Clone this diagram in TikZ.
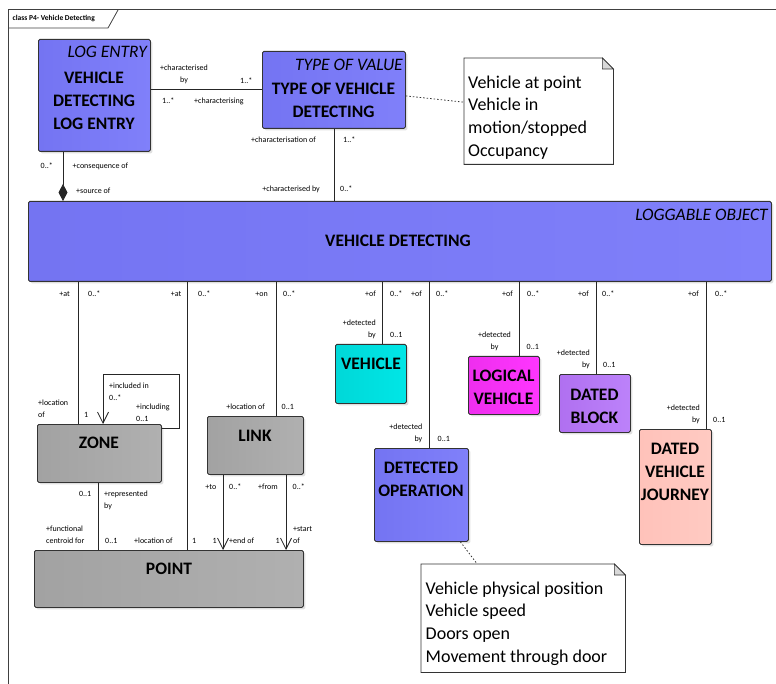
\documentclass[tikz,border=0pt]{standalone}
\usepackage{fontspec}
\setmainfont{Carlito}
\usetikzlibrary{arrows.meta,shadows}
\definecolor{bL}{HTML}{7474F2}
\definecolor{bM}{HTML}{A4A4FF}
\definecolor{bR}{HTML}{8080FA}
\definecolor{gL}{HTML}{A2A2A2}
\definecolor{gM}{HTML}{C6C6C6}
\definecolor{gR}{HTML}{B0B0B0}
\definecolor{cL}{HTML}{00D8D8}
\definecolor{cM}{HTML}{40FFFF}
\definecolor{cR}{HTML}{00E6E6}
\definecolor{mL}{HTML}{EE2EEE}
\definecolor{mM}{HTML}{FF6AFF}
\definecolor{mR}{HTML}{FF36FF}
\definecolor{pL}{HTML}{B070F0}
\definecolor{pM}{HTML}{CFA0FF}
\definecolor{pR}{HTML}{BC82FA}
\definecolor{kL}{HTML}{FFC2BA}
\definecolor{kM}{HTML}{FFE2DC}
\definecolor{kR}{HTML}{FFCAC2}
\definecolor{foldc}{HTML}{D8D8D8}
\tikzset{
  cls/.style={draw=black!80, line width=0.8pt, rounded corners=1.5pt, anchor=north west,
    inner sep=0pt, drop shadow={shadow xshift=2pt, shadow yshift=-2pt, opacity=0.25}},
  blueF/.style={left color=bL, middle color=bM, right color=bR},
  grayF/.style={left color=gL, middle color=gM, right color=gR},
  cyanF/.style={left color=cL, middle color=cM, right color=cR},
  magF/.style={left color=mL, middle color=mM, right color=mR},
  purF/.style={left color=pL, middle color=pM, right color=pR},
  pinkF/.style={left color=kL, middle color=kM, right color=kR},
  ttl/.style={font=\fontsize{17.5}{23}\selectfont\bfseries, align=center, inner sep=0pt},
  stereo/.style={font=\fontsize{17.5}{21}\selectfont\itshape, inner sep=0pt, anchor=east},
  lbl/.style={font=\fontsize{8}{12}\selectfont, inner sep=0pt},
  notetxt/.style={font=\fontsize{18}{22.7}\selectfont, align=left, inner sep=0pt, anchor=west},
  notearea/.style={inner sep=0pt, anchor=north west},
  assoc/.style={draw=black!85, line width=0.8pt},
  openV/.style={-{Straight Barb[length=11pt,width=11pt,line width=0.8pt]}},
  dotl/.style={draw=black!80, line width=0.8pt, dash pattern=on 1.5pt off 2pt},
}
\begin{document}
\begin{tikzpicture}[x=1pt,y=-1pt]
\useasboundingbox (0,0) rectangle (776,684);
% frame
\draw[black!75, line width=1pt] (8,684) -- (8,10) -- (776,10);
\draw[black!75, line width=0.8pt] (8,28) -- (108,28) -- (118,10);
\node[font=\fontsize{7.5}{9}\selectfont\bfseries, inner sep=0pt, anchor=west] (title) at (12.5,19) {class P4- Vehicle Detecting};

% classes
\node[cls, blueF, minimum width=112, minimum height=112] (vdle) at (38,39) {};
\node[stereo] (vdleS) at (147,52) {LOG ENTRY};
\node[ttl] (vdleT) at (94,101) {VEHICLE\\DETECTING\\LOG ENTRY};

\node[cls, blueF, minimum width=143, minimum height=77] (tovd) at (262,51) {};
\node[stereo] (tovdS) at (403,65) {TYPE OF VALUE};
\node[ttl] (tovdT) at (333.5,100.5) {TYPE OF VEHICLE\\DETECTING};

\node[cls, blueF, minimum width=743, minimum height=80] (vd) at (28,201) {};
\node[stereo] (vdS) at (768,215) {LOGGABLE OBJECT};
\node[ttl] (vdT) at (398,241) {VEHICLE DETECTING};

\node[cls, grayF, minimum width=124, minimum height=58] (zone) at (37,424) {};
\node[ttl] (zoneT) at (99,443) {ZONE};

\node[cls, grayF, minimum width=96, minimum height=58] (link) at (207,416) {};
\node[ttl] (linkT) at (255,436) {LINK};

\node[cls, grayF, minimum width=269, minimum height=57] (point) at (34,550) {};
\node[ttl] (pointT) at (169,569) {POINT};

\node[cls, cyanF, minimum width=71, minimum height=59] (veh) at (335,344) {};
\node[ttl] (vehT) at (371,364) {VEHICLE};

\node[cls, magF, minimum width=71, minimum height=58] (lveh) at (468,356) {};
\node[ttl] (lvehT) at (503.5,387) {LOGICAL\\VEHICLE};

\node[cls, purF, minimum width=71, minimum height=58] (dblk) at (559,374) {};
\node[ttl] (dblkT) at (594.5,406) {DATED\\BLOCK};

\node[cls, pinkF, minimum width=72, minimum height=115] (dvj) at (639,429) {};
\node[ttl] (dvjT) at (675,472) {DATED\\VEHICLE\\JOURNEY};

\node[cls, blueF, minimum width=94, minimum height=93] (detop) at (374,448) {};
\node[ttl] (detopT) at (421,479.5) {DETECTED\\OPERATION};

% notes
\node[notearea, minimum width=149, minimum height=106] (note1) at (464,58) {};
\draw[black!80, line width=0.8pt, fill=white] (note1.north west) -- ([xshift=-11pt]note1.north east) -- ([yshift=-11pt]note1.north east) -- (note1.south east) -- (note1.south west) -- cycle;
\draw[black!80, line width=0.6pt, fill=foldc] ([xshift=-11pt]note1.north east) -- ([xshift=-11pt,yshift=-11pt]note1.north east) -- ([yshift=-11pt]note1.north east) -- cycle;
\node[notetxt] (note1T) at (468,117.5) {Vehicle at point\\Vehicle in\\motion/stopped\\Occupancy};

\node[notearea, minimum width=204, minimum height=108] (note2) at (421,564) {};
\draw[black!80, line width=0.8pt, fill=white] (note2.north west) -- ([xshift=-11pt]note2.north east) -- ([yshift=-11pt]note2.north east) -- (note2.south east) -- (note2.south west) -- cycle;
\draw[black!80, line width=0.6pt, fill=foldc] ([xshift=-11pt]note2.north east) -- ([xshift=-11pt,yshift=-11pt]note2.north east) -- ([yshift=-11pt]note2.north east) -- cycle;
\node[notetxt] (note2T) at (425.5,623.5) {Vehicle physical position\\Vehicle speed\\Doors open\\Movement through door};

% note links
\draw[dotl] ([yshift=-6pt]tovd.east) -- ([yshift=9pt]note1.west);
\draw[dotl] ([xshift=39pt]detop.south) -- ([xshift=-46pt]note2.north);

% associations
\draw[assoc] (vdle.east |- 0,89) -- (tovd.west |- 0,89);
\draw[assoc, {Diamond[length=17pt,width=9pt]}-] (vd.north -| 63,0) -- (vdle.south -| 63,0);
\draw[assoc] (tovd.south -| 334,0) -- (vd.north -| 334,0);

\draw[assoc] (vd.south -| 78,0) -- (zone.north -| 78,0);
\draw[assoc] (vd.south -| 187,0) -- (point.north -| 187,0);
\draw[assoc] (vd.south -| 276,0) -- (link.north -| 276,0);
\draw[assoc] (vd.south -| 382,0) -- (veh.north -| 382,0);
\draw[assoc] (vd.south -| 429,0) -- (detop.north -| 429,0);
\draw[assoc] (vd.south -| 519,0) -- (lveh.north -| 519,0);
\draw[assoc] (vd.south -| 596,0) -- (dblk.north -| 596,0);
\draw[assoc] (vd.south -| 706,0) -- (dvj.north -| 706,0);

\draw[assoc, openV] (zone.east |- 0,428) -- (179,428) -- (179,374) -- (103,374) -- (zone.north -| 103,0);
\draw[assoc] (zone.south -| 98,0) -- (point.north -| 98,0);
\draw[assoc, openV] (link.south -| 223,0) -- (point.north -| 223,0);
\draw[assoc, openV] (link.south -| 286,0) -- (point.north -| 286,0);

% labels top
\node[lbl, align=center] (l1) at (184,74.5) {+characterised\\by};
\node[lbl, anchor=west] (l2) at (240,81) {1..*};
\node[lbl, anchor=west] (l3) at (162,101) {1..*};
\node[lbl, anchor=west] (l4) at (194,101) {+characterising};
\node[lbl, anchor=west] (l5) at (40.5,166) {0..*};
\node[lbl, anchor=west] (l6) at (72.5,166) {+consequence of};
\node[lbl, anchor=west] (l7) at (76,191) {+source of};
\node[lbl, anchor=east] (l8) at (316,140) {+characterisation of};
\node[lbl, anchor=west] (l9) at (343,140) {1..*};
\node[lbl, anchor=east] (l10) at (320,189) {+characterised by};
\node[lbl, anchor=west] (l11) at (340,189) {0..*};

% labels under main box
\node[lbl, anchor=east] (a1) at (70,294) {+at};
\node[lbl, anchor=west] (a2) at (88,294) {0..*};
\node[lbl, anchor=east] (a3) at (181.5,294) {+at};
\node[lbl, anchor=west] (a4) at (198,294) {0..*};
\node[lbl, anchor=east] (a5) at (268,294) {+on};
\node[lbl, anchor=west] (a6) at (283,294) {0..*};
\node[lbl, anchor=east] (a7) at (376,294) {+of};
\node[lbl, anchor=west] (a8) at (390,294) {0..*};
\node[lbl, anchor=east] (a9) at (422,294) {+of};
\node[lbl, anchor=west] (a10) at (436,294) {0..*};
\node[lbl, anchor=east] (a11) at (513,294) {+of};
\node[lbl, anchor=west] (a12) at (527,294) {0..*};
\node[lbl, anchor=east] (a13) at (589,294) {+of};
\node[lbl, anchor=west] (a14) at (602,294) {0..*};
\node[lbl, anchor=east] (a15) at (699,294) {+of};
\node[lbl, anchor=west] (a16) at (715,294) {0..*};

% detected by
\node[lbl, align=right, anchor=east] (d1) at (376,329) {+detected\\by};
\node[lbl, anchor=west] (d2) at (390,335) {0..1};
\node[lbl, align=center] (d3) at (494.5,341) {+detected\\by};
\node[lbl, anchor=west] (d4) at (526.5,346.5) {0..1};
\node[lbl, align=right, anchor=east] (d5) at (590,359) {+detected\\by};
\node[lbl, anchor=west] (d6) at (603,365) {0..1};
\node[lbl, align=right, anchor=east] (d7) at (700,414) {+detected\\by};
\node[lbl, anchor=west] (d8) at (713,420) {0..1};
\node[lbl, align=right, anchor=east] (d9) at (422.5,433.5) {+detected\\by};
\node[lbl, anchor=west] (d10) at (437.5,439) {0..1};

% zone / link / point labels
\node[lbl, align=left, anchor=west] (z1) at (38,409) {+location\\of};
\node[lbl, anchor=west] (z2) at (84,415) {1};
\node[lbl, align=left, anchor=west] (z3) at (109,392) {+included in\\0..*};
\node[lbl, align=left, anchor=west] (z4) at (136,412.5) {+including\\0..1};
\node[lbl, anchor=east] (k1) at (265,407) {+location of};
\node[lbl, anchor=west] (k2) at (281.5,407) {0..1};
\node[lbl, anchor=east] (z5) at (91.5,494) {0..1};
\node[lbl, align=left, anchor=west] (z6) at (104,500) {+represented\\by};
\node[lbl, align=left, anchor=west] (p1) at (46,535) {+functional\\centroid for};
\node[lbl, anchor=west] (p2) at (105,541) {0..1};
\node[lbl, anchor=west] (p3) at (134,541) {+location of};
\node[lbl, anchor=west] (p4) at (192,541) {1};
\node[lbl, anchor=east] (k3) at (216.5,487) {+to};
\node[lbl, anchor=west] (k4) at (229,487) {0..*};
\node[lbl, anchor=east] (k5) at (278,487) {+from};
\node[lbl, anchor=west] (k6) at (292.5,487) {0..*};
\node[lbl, anchor=east] (p5) at (217,541) {1};
\node[lbl, anchor=west] (p6) at (229,541) {+end of};
\node[lbl, anchor=east] (p7) at (280,541) {1};
\node[lbl, align=left, anchor=west] (p8) at (293,535) {+start\\of};
\end{tikzpicture}
\end{document}
